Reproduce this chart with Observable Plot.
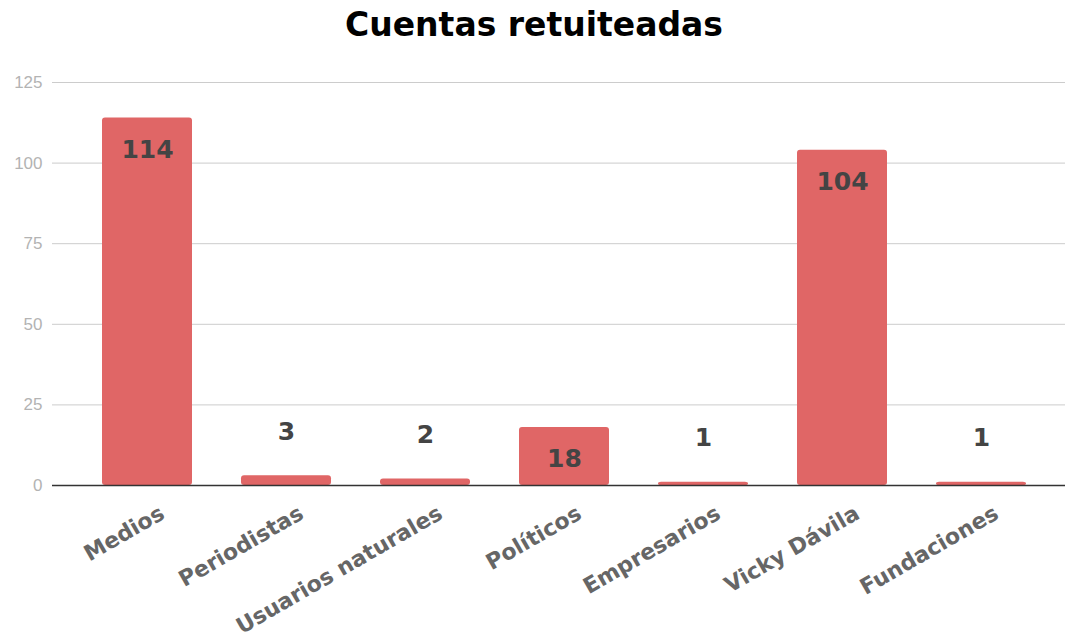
<!DOCTYPE html>
<html>
<head>
<meta charset="utf-8">
<script src="https://cdn.jsdelivr.net/npm/d3@7"></script>
<script src="https://cdn.jsdelivr.net/npm/@observablehq/plot@0.6"></script>
<style>
  html, body { margin: 0; padding: 0; background: #fff; }
  #title { height: 50px; margin: 0; font: bold 33px "DejaVu Sans", sans-serif; line-height: 50px; text-align: center; color: #000; }
  #chart svg { display: block; }
</style>
</head>
<body>
<div id="title">Cuentas retuiteadas</div>
<div id="chart"></div>
<script>
const categories = ["Medios", "Periodistas", "Usuarios naturales", "Políticos", "Empresarios", "Vicky Dávila", "Fundaciones"];
const values = [114, 3, 2, 18, 1, 104, 1];
const yTicks = [0, 25, 50, 75, 100, 125];

const data = categories.map((c, i) => ({category: c, value: values[i]}));
const inside = data.filter(d => d.value >= 10);
const outside = data.filter(d => d.value < 10);

const chart = Plot.plot({
  width: 1068,
  height: 588,
  marginTop: 32,
  marginBottom: 153,
  marginLeft: 52,
  marginRight: 3,
  style: {background: "#fff", overflow: "visible"},
  x: {domain: categories, paddingInner: 0.355, paddingOuter: 0.1775, insetLeft: 23, insetRight: 13, label: null},
  y: {domain: [0, 125], label: null},
  marks: [
    Plot.gridY(yTicks, {stroke: "#cccccc", strokeOpacity: 1, strokeWidth: 1}),
    Plot.axisY(yTicks, {tickSize: 0, tickPadding: 10, fontSize: 17, fill: "#b3b3b3", fontFamily: "Liberation Sans, Arial, sans-serif", label: null}),
    Plot.barY(data, {x: "category", y: "value", fill: "#e06666", rx: 3}),
    Plot.ruleY([0], {stroke: "#333", strokeWidth: 1.5}),
    Plot.text(inside, {x: "category", y: "value", text: d => String(d.value), dy: 32, fontSize: 25, fontWeight: "bold", fill: "#444", fontFamily: "DejaVu Sans, sans-serif"}),
    Plot.text(outside, {x: "category", y: "value", text: d => String(d.value), dy: -44, fontSize: 25, fontWeight: "bold", fill: "#444", fontFamily: "DejaVu Sans, sans-serif"}),
    Plot.axisX({tickSize: 0, tickPadding: 26, tickRotate: -30, fontSize: 22, fontWeight: "bold", fill: "#666", fontFamily: "DejaVu Sans, sans-serif", dx: 15, label: null})
  ]
});
document.getElementById("chart").appendChild(chart);
</script>
</body>
</html>
